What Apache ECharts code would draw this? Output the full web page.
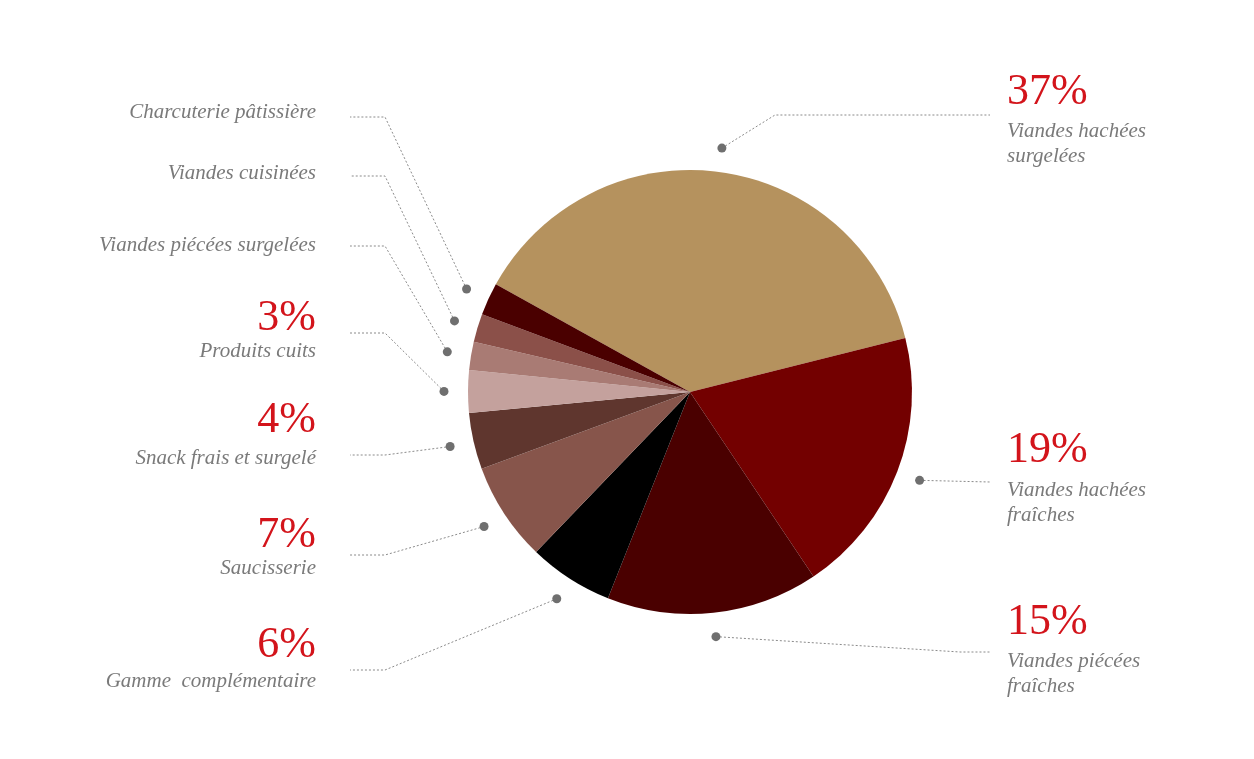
<!DOCTYPE html>
<html><head><meta charset="utf-8">
<script src="https://cdn.jsdelivr.net/npm/echarts@6/dist/echarts.min.js"></script>
<style>html,body{margin:0;background:#fff}#c{width:1254px;height:759px}</style>
</head><body><div id="c"></div>
<script>
const names = ['Viandes hachées\nsurgelées','Viandes hachées\nfraîches','Viandes piécées\nfraîches','Gamme  complémentaire','Saucisserie','Snack frais et surgelé','Produits cuits','Viandes piécées surgelées','Viandes cuisinées','Charcuterie pâtissière'];
const values = [37,19,15,6,7,4,3,2,2,2.3];
const pctLabels = ['37%','19%','15%','6%','7%','4%','3%','','',''];
const colors = ['#b5925e','#730000','#4a0000','#000000','#87554b','#5f362e','#c4a19d','#a97b74','#8b5049','#4a0000'];

// label layout: [side, textX, pctY, nameY, lineY, elbowX]
const layout = [
  ['R',1007,92,131,115,775],
  ['R',1007,450,490,482,null],
  ['R',1007,622,661,652,960],
  ['L',316,645,681,670,385],
  ['L',316,535,568,555,385],
  ['L',316,420,458,455,385],
  ['L',316,318,351,333,385],
  ['L',316,null,245,246,385],
  ['L',316,null,173,176,385],
  ['L',316,null,112,117,385]
];
const cx=690, cy=392, R=222, startAngle=151;
const total = values.reduce((a,b)=>a+b,0);
const graphics=[];
let acc=0;
values.forEach((v,i)=>{
  const mid = startAngle - (acc+v/2)/total*360; acc+=v;
  const a = mid*Math.PI/180;
  const dx = cx + (R+24)*Math.cos(a), dy = cy - (R+24)*Math.sin(a);
  const L = layout[i];
  const side=L[0], tx=L[1], py=L[2], ny=L[3], ly=L[4], ex=L[5];
  let pts;
  if(side==='R'){ const endX=990; pts = ex? [[dx,dy],[ex,ly],[endX,ly]] : [[dx,dy],[endX,ly]]; }
  else { pts=[[dx,dy],[ex,ly],[350,ly]]; }
  graphics.push({type:'polyline',shape:{points:pts},style:{stroke:'#8a8a8a',lineWidth:1,lineDash:[2,2],fill:null},z:1});
  graphics.push({type:'circle',shape:{cx:dx,cy:dy,r:4.5},style:{fill:'#6f6f6f'},z:2});
  const align = side==='R'?'left':'right';
  if(pctLabels[i]) graphics.push({type:'text',x:tx,y:py,style:{text:pctLabels[i],fill:'#d3141b',font:'44px "Liberation Serif"',align:align,verticalAlign:'middle'}});
  graphics.push({type:'text',x:tx,y:ny,style:{text:names[i],fill:'#7a7a7a',font:'italic 21px "Liberation Serif"',lineHeight:25,align:align,verticalAlign:side==='R'&&names[i].includes('\n')?'top':'middle'},
    y: side==='R'&&names[i].includes('\n') ? ny-12 : ny});
});
const chart = echarts.init(document.getElementById('c'));
chart.setOption({
  animation:false,
  series:[{type:'pie',center:[cx,cy],radius:R,startAngle:startAngle,clockwise:true,
    label:{show:false},labelLine:{show:false},emphasis:{disabled:true},
    data: values.map((v,i)=>({value:v,name:names[i],itemStyle:{color:colors[i]}}))}],
  graphic:graphics
});
</script></body></html>
